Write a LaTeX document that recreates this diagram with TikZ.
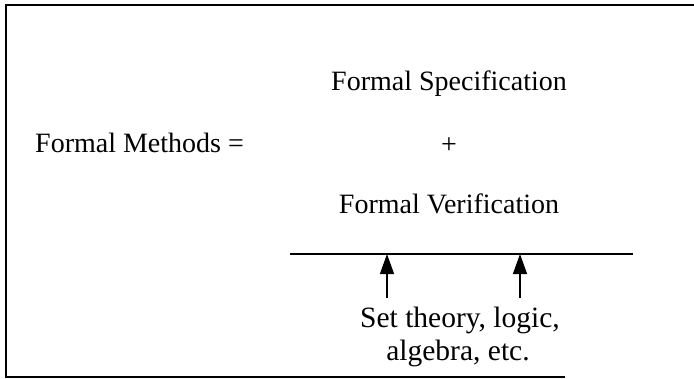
\documentclass[tikz,border=0pt]{standalone}
\usepackage{fontspec}
\setmainfont{Liberation Serif}
\usetikzlibrary{arrows.meta}
\begin{document}
\begin{tikzpicture}[x=1pt,y=-1pt,
  txt/.style={font=\fontsize{28}{32}\selectfont, inner sep=0pt},
  txtb/.style={font=\fontsize{29.5}{33}\selectfont, inner sep=0pt},
  frameline/.style={line width=2pt},
  bar/.style={line width=1.4pt},
  uparrow/.style={line width=1.4pt, -{Triangle[length=20pt,width=14pt]}}
]
\useasboundingbox (0,0) rectangle (694,378);
% frame (no right edge visible in reference)
\coordinate (tl) at (6,5);
\coordinate (tr) at (694,5);
\coordinate (bl) at (6,377);
\coordinate (br) at (565,377);
\draw[frameline] (tr) -- (tl) -- (bl) -- (br);

\node[txt, anchor=base] (spec) at (449,90) {Formal Specification};
\node[txt, anchor=base west] (fm) at (35,152) {Formal Methods =};
\node[txt, anchor=base] (plus) at (449,153) {+};
\node[txt, anchor=base] (verif) at (449,213) {Formal Verification};

\coordinate (barL) at (290,254);
\coordinate (barR) at (633,254);
\draw[bar] (barL) -- (barR);

\node[txtb, anchor=base] (math) at (460,327) {Set theory, logic,};
\node[txtb, anchor=base] (alg) at (458,360) {algebra, etc.};

\coordinate (a1top) at (387,254);
\coordinate (a1bot) at (387,298);
\coordinate (a2top) at (520,254);
\coordinate (a2bot) at (520,298);
\draw[uparrow] (a1bot) -- (a1top);
\draw[uparrow] (a2bot) -- (a2top);
\end{tikzpicture}
\end{document}
